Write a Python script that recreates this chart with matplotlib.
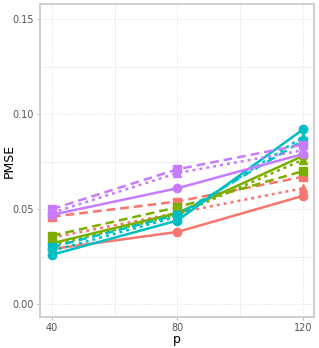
import matplotlib
matplotlib.use("Agg")
import matplotlib.pyplot as plt
from matplotlib.ticker import MultipleLocator

p = [40, 80, 120]

red_circle = [0.029, 0.038, 0.057]
red_triangle = [0.035, 0.048, 0.061]
red_square = [0.046, 0.054, 0.067]

green_circle = [0.032, 0.048, 0.078]
green_triangle = [0.031, 0.047, 0.076]
green_square = [0.036, 0.051, 0.070]

cyan_circle = [0.026, 0.044, 0.092]
cyan_triangle = [0.028, 0.046, 0.088]
cyan_square = [0.030, 0.047, 0.086]

purple_circle = [0.047, 0.061, 0.079]
purple_triangle = [0.048, 0.069, 0.081]
purple_square = [0.050, 0.071, 0.084]

colors = {"red": "#F8766D", "green": "#7CAE00", "cyan": "#00BFC4", "purple": "#C77CFF"}
series = [
    ("red", "o", "-", red_circle), ("red", "^", ":", red_triangle), ("red", "s", "--", red_square),
    ("green", "o", "-", green_circle), ("green", "^", ":", green_triangle), ("green", "s", "--", green_square),
    ("cyan", "o", "-", cyan_circle), ("cyan", "^", ":", cyan_triangle), ("cyan", "s", "--", cyan_square),
    ("purple", "o", "-", purple_circle), ("purple", "^", ":", purple_triangle), ("purple", "s", "--", purple_square),
]

fig = plt.figure(figsize=(3.19, 3.48), dpi=100)
ax = fig.add_axes([40/319, 1 - 317/348, (314-40)/319, (317-4)/348])

for c, m, ls, vals in series:
    if ls == ":":
        dash = (0, (1.2, 1.6))
    elif ls == "--":
        dash = (0, (3.5, 2))
    else:
        dash = "-"
    ax.plot(p, vals, color=colors[c], linestyle=dash, linewidth=1.8,
            marker=m, markersize=6, zorder=3)

ax.set_xlim(36.2, 123.5)
ax.set_ylim(-0.0068, 0.158)
ax.set_xticks(p)
ax.set_yticks([0.00, 0.05, 0.10, 0.15])
ax.set_yticklabels(["0.00", "0.05", "0.10", "0.15"])
ax.xaxis.set_minor_locator(MultipleLocator(20))
ax.yaxis.set_minor_locator(MultipleLocator(0.025))
ax.grid(which="major", color="#e3e3e3", linestyle=(0, (2, 2)), linewidth=0.6, zorder=0)
ax.grid(which="minor", color="#ececec", linestyle="-", linewidth=0.6, zorder=0)
ax.set_axisbelow(True)
for s in ax.spines.values():
    s.set_color("#cccccc")
    s.set_linewidth(1.3)
ax.tick_params(which="major", length=2.5, width=0.6, color="#b0b0b0",
               labelsize=7, labelcolor="#555555", pad=2)
ax.tick_params(which="minor", length=0)
ax.set_xlabel("p", fontsize=9, va="center")
ax.xaxis.set_label_coords(0.5, -(339 - 317) / 313)
ax.set_ylabel("PMSE", fontsize=9, va="center")
ax.yaxis.set_label_coords(-(40 - 9) / 274, 0.5)

fig.savefig("out.png", dpi=100)
